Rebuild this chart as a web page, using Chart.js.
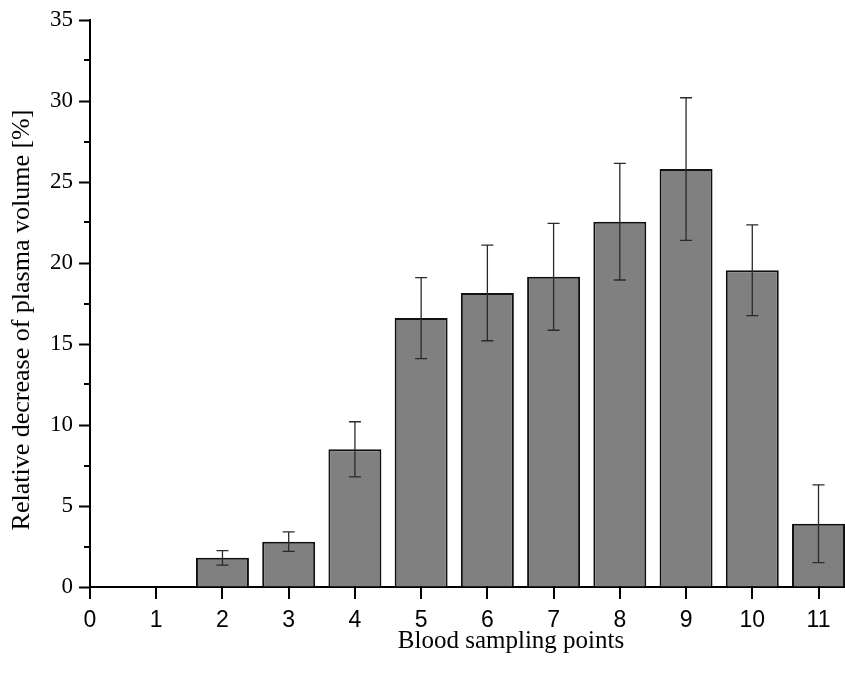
<!DOCTYPE html>
<html>
<head>
<meta charset="utf-8">
<script src="https://cdn.jsdelivr.net/npm/chart.js@4.4.1/dist/chart.umd.min.js"></script>
<style>
  body { margin: 0; background: #fff; }
  #wrap { width: 845px; height: 684px; }
</style>
</head>
<body>
<div id="wrap"><canvas id="myChart" width="845" height="684"></canvas></div>
<script>
// sampling points, mean decrease and error (+/-)
const points = [1, 2, 3, 4, 5, 6, 7, 8, 9, 10, 11];
const decrease = [0, 1.8, 2.8, 8.5, 16.6, 18.15, 19.15, 22.55, 25.8, 19.55, 3.9];
const errors = [0, 0.45, 0.6, 1.7, 2.5, 2.95, 3.3, 3.6, 4.4, 2.8, 2.4];
const xTicks = [0, 1, 2, 3, 4, 5, 6, 7, 8, 9, 10, 11];
const xTitle = 'Blood sampling points';
const yTitle = 'Relative decrease of plasma volume [%]';

const serif = "'Liberation Serif', 'Times New Roman', serif";
const sans = "'Liberation Sans', Arial, sans-serif";

// error bars, tick marks and axis titles
const extras = {
  id: 'extras',
  afterDatasetsDraw(chart) {
    const ctx = chart.ctx;
    const xs = chart.scales.x, ys = chart.scales.y;
    ctx.save();
    ctx.strokeStyle = '#2a2a2a';
    ctx.lineWidth = 1.3;
    for (let i = 0; i < points.length; i++) {
      if (!errors[i]) continue;
      const px = xs.getPixelForValue(points[i]);
      const top = ys.getPixelForValue(decrease[i] + errors[i]);
      const bot = ys.getPixelForValue(decrease[i] - errors[i]);
      ctx.beginPath();
      ctx.moveTo(px, top); ctx.lineTo(px, bot);
      ctx.moveTo(px - 6, top); ctx.lineTo(px + 6, top);
      ctx.moveTo(px - 6, bot); ctx.lineTo(px + 6, bot);
      ctx.stroke();
    }
    ctx.restore();
  },
  afterDraw(chart) {
    const ctx = chart.ctx;
    const xs = chart.scales.x, ys = chart.scales.y;
    ctx.save();
    ctx.fillStyle = '#000';
    // x ticks (outward, below the axis)
    for (const v of xTicks) {
      const px = Math.round(xs.getPixelForValue(v));
      ctx.fillRect(px - 1, xs.top - 1, 2, 13);
    }
    // minor y ticks
    for (let v = 2.5; v < 35; v += 5) {
      const py = Math.round(ys.getPixelForValue(v));
      ctx.fillRect(ys.right - 6, py - 1, 6, 2);
    }
    ctx.textAlign = 'center';
    ctx.textBaseline = 'middle';
    ctx.font = '25px ' + serif;
    ctx.fillText(xTitle, 511, 641);
    ctx.font = '26px ' + serif;
    ctx.translate(22, 320);
    ctx.rotate(-Math.PI / 2);
    ctx.fillText(yTitle, 0, 0);
    ctx.restore();
  }
};

new Chart(document.getElementById('myChart'), {
  type: 'bar',
  data: {
    datasets: [{
      data: points.map((p, i) => ({ x: p, y: decrease[i] })),
      backgroundColor: '#808080',
      borderColor: '#111',
      borderWidth: 2,
      barPercentage: 0.8,
      categoryPercentage: 1.0
    }]
  },
  plugins: [extras],
  options: {
    responsive: false,
    animation: false,
    layout: { padding: { top: 20, right: 0, left: 0, bottom: 0 } },
    plugins: { legend: { display: false }, tooltip: { enabled: false } },
    scales: {
      x: {
        type: 'linear',
        offset: false,
        min: 0,
        max: 11.4,
        afterBuildTicks(scale) { scale.ticks = xTicks.map(v => ({ value: v })); },
        afterFit(scale) { scale.height = 97; },
        ticks: { font: { family: sans, size: 23 }, color: '#000', padding: 12, autoSkip: false, maxRotation: 0 },
        grid: { display: false },
        border: { color: '#000', width: 2 }
      },
      y: {
        min: 0,
        max: 35,
        afterBuildTicks(scale) {
          const t = [];
          for (let v = 0; v <= 35; v += 5) t.push({ value: v });
          scale.ticks = t;
        },
        afterFit(scale) { scale.width = 90; },
        ticks: { font: { family: serif, size: 23 }, color: '#000', padding: 6 },
        grid: { drawOnChartArea: false, tickLength: 11, tickColor: '#000', tickWidth: 2 },
        border: { color: '#000', width: 2 }
      }
    }
  }
});
</script>
</body>
</html>
